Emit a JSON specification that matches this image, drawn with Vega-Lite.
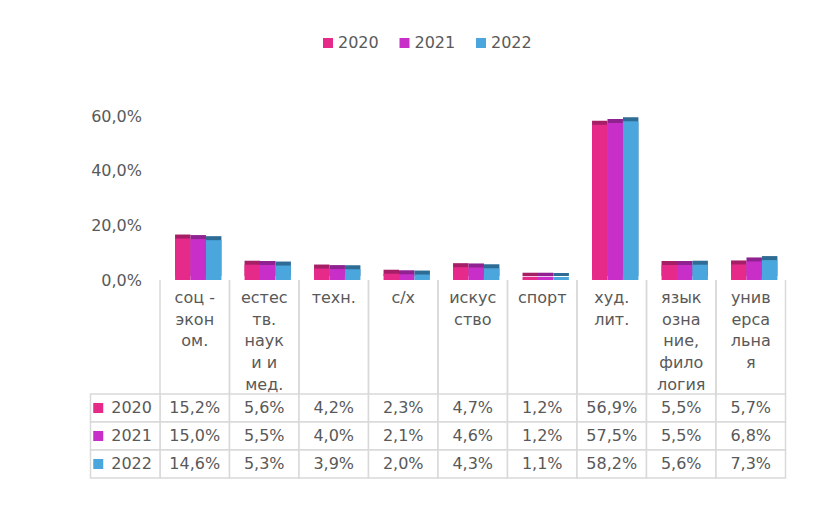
{
  "$schema": "https://vega.github.io/schema/vega-lite/v6.json",
  "autosize": {"type": "pad"},
  "padding": {"left": 89.5, "top": 35, "right": 0, "bottom": 0},
  "background": "white",
  "bounds": "flush",
  "spacing": 0,
  "resolve": {"scale": {"color": "independent"}, "legend": {"color": "independent"}},
  "config": {
    "view": {"stroke": null},
    "font": "DejaVu Sans",
    "locale": {"number": {"decimal": ",", "thousands": " ", "grouping": [3], "currency": ["", ""]}}
  },
  "datasets": {
    "d": [
      {"cat": "соц -\nэкон\nом.", "year": "2020", "v": 0.152},
      {"cat": "соц -\nэкон\nом.", "year": "2021", "v": 0.150},
      {"cat": "соц -\nэкон\nом.", "year": "2022", "v": 0.146},
      {"cat": "естес\nтв.\nнаук\nи и\nмед.", "year": "2020", "v": 0.056},
      {"cat": "естес\nтв.\nнаук\nи и\nмед.", "year": "2021", "v": 0.055},
      {"cat": "естес\nтв.\nнаук\nи и\nмед.", "year": "2022", "v": 0.053},
      {"cat": "техн.", "year": "2020", "v": 0.042},
      {"cat": "техн.", "year": "2021", "v": 0.040},
      {"cat": "техн.", "year": "2022", "v": 0.039},
      {"cat": "с/х", "year": "2020", "v": 0.023},
      {"cat": "с/х", "year": "2021", "v": 0.021},
      {"cat": "с/х", "year": "2022", "v": 0.020},
      {"cat": "искус\nство", "year": "2020", "v": 0.047},
      {"cat": "искус\nство", "year": "2021", "v": 0.046},
      {"cat": "искус\nство", "year": "2022", "v": 0.043},
      {"cat": "спорт", "year": "2020", "v": 0.012},
      {"cat": "спорт", "year": "2021", "v": 0.012},
      {"cat": "спорт", "year": "2022", "v": 0.011},
      {"cat": "худ.\nлит.", "year": "2020", "v": 0.569},
      {"cat": "худ.\nлит.", "year": "2021", "v": 0.575},
      {"cat": "худ.\nлит.", "year": "2022", "v": 0.582},
      {"cat": "язык\nозна\nние,\nфило\nлогия", "year": "2020", "v": 0.055},
      {"cat": "язык\nозна\nние,\nфило\nлогия", "year": "2021", "v": 0.055},
      {"cat": "язык\nозна\nние,\nфило\nлогия", "year": "2022", "v": 0.056},
      {"cat": "унив\nерса\nльна\nя", "year": "2020", "v": 0.057},
      {"cat": "унив\nерса\nльна\nя", "year": "2021", "v": 0.068},
      {"cat": "унив\nерса\nльна\nя", "year": "2022", "v": 0.073}
    ],
    "cats": [
      {"cat": "соц -\nэкон\nом."},
      {"cat": "естес\nтв.\nнаук\nи и\nмед."},
      {"cat": "техн."},
      {"cat": "с/х"},
      {"cat": "искус\nство"},
      {"cat": "спорт"},
      {"cat": "худ.\nлит."},
      {"cat": "язык\nозна\nние,\nфило\nлогия"},
      {"cat": "унив\nерса\nльна\nя"}
    ],
    "years": [
      {"year": "2020"},
      {"year": "2021"},
      {"year": "2022"}
    ]
  },
  "vconcat": [
    {
      "width": 695,
      "height": 191,
      "data": {"name": "d"},
      "encoding": {
        "x": {
          "field": "cat", "type": "nominal", "axis": null,
          "scale": {"domain": ["_", "соц -\nэкон\nом.", "естес\nтв.\nнаук\nи и\nмед.", "техн.", "с/х", "искус\nство", "спорт", "худ.\nлит.", "язык\nозна\nние,\nфило\nлогия", "унив\nерса\nльна\nя"], "paddingInner": 0.333, "paddingOuter": 0.1667, "align": 0.65}
        },
        "xOffset": {"field": "year", "type": "nominal", "scale": {"domain": ["2020", "2021", "2022"]}},
        "y": {
          "field": "v", "type": "quantitative",
          "scale": {"domain": [0, 0.7], "nice": false},
          "axis": {"values": [0, 0.2, 0.4, 0.6], "format": ".1%", "domain": false, "ticks": false, "tickSize": 0, "grid": false, "offset": -55, "labelPadding": 4, "labelFontSize": 16, "labelColor": "#595959", "labelFont": "DejaVu Sans", "title": null}
        }
      },
      "layer": [
        {
          "mark": {"type": "bar", "xOffset": 4, "yOffset": -4},
          "encoding": {
            "fill": {"field": "year", "type": "nominal", "scale": {"domain": ["2020", "2021", "2022"], "range": ["#A61F66", "#8F2290", "#2E6C95"]}, "legend": null}
          }
        },
        {
          "mark": {"type": "bar"},
          "encoding": {
            "color": {
              "field": "year", "type": "nominal",
              "scale": {"domain": ["2020", "2021", "2022"], "range": ["#E52A8A", "#C72FC8", "#4AA6DC"]},
              "legend": {"orient": "none", "direction": "horizontal", "legendX": 229.5, "legendY": -54, "title": null, "symbolType": "square", "symbolSize": 100, "symbolStrokeWidth": 0, "labelFontSize": 16, "labelColor": "#595959", "labelFont": "DejaVu Sans", "labelOffset": 2, "columnPadding": 17.5}
            }
          }
        }
      ]
    },
    {
      "width": 695,
      "height": 114,
      "data": {"name": "cats"},
      "layer": [
        {
          "mark": {"type": "rule", "color": "#D9D9D9", "strokeWidth": 1.5},
          "encoding": {
            "x": {"field": "cat", "type": "nominal", "bandPosition": 0, "axis": null,
              "scale": {"domain": ["_", "соц -\nэкон\nом.", "естес\nтв.\nнаук\nи и\nмед.", "техн.", "с/х", "искус\nство", "спорт", "худ.\nлит.", "язык\nозна\nние,\nфило\nлогия", "унив\nерса\nльна\nя"], "paddingInner": 0, "paddingOuter": 0}}
          }
        },
        {
          "mark": {"type": "rule", "color": "#D9D9D9", "strokeWidth": 1.5},
          "encoding": {
            "x": {"field": "cat", "type": "nominal", "bandPosition": 1, "axis": null}
          }
        },
        {
          "mark": {"type": "text", "baseline": "top", "lineBreak": "\n", "lineHeight": 21.7, "fontSize": 16, "color": "#595959", "font": "DejaVu Sans"},
          "encoding": {
            "x": {"field": "cat", "type": "nominal", "axis": null},
            "y": {"value": 10},
            "text": {"field": "cat", "type": "nominal"}
          }
        }
      ]
    },
    {
      "width": 695,
      "height": 84,
      "encoding": {
        "y": {"field": "year", "type": "nominal", "axis": null, "scale": {"domain": ["2020", "2021", "2022"], "paddingInner": 0, "paddingOuter": 0}}
      },
      "layer": [
        {
          "data": {"name": "d"},
          "mark": {"type": "rect", "fill": "white", "stroke": "#D9D9D9", "strokeWidth": 1.5},
          "encoding": {
            "x": {"field": "cat", "type": "nominal", "axis": null,
              "scale": {"domain": ["_", "соц -\nэкон\nом.", "естес\nтв.\nнаук\nи и\nмед.", "техн.", "с/х", "искус\nство", "спорт", "худ.\nлит.", "язык\nозна\nние,\nфило\nлогия", "унив\nерса\nльна\nя"], "paddingInner": 0, "paddingOuter": 0}}
          }
        },
        {
          "data": {"name": "years"},
          "mark": {"type": "rect", "fill": "white", "stroke": "#D9D9D9", "strokeWidth": 1.5},
          "encoding": {"x": {"datum": "_", "type": "nominal"}}
        },
        {
          "data": {"name": "d"},
          "mark": {"type": "text", "fontSize": 16, "color": "#595959", "font": "DejaVu Sans"},
          "encoding": {
            "x": {"field": "cat", "type": "nominal"},
            "text": {"field": "v", "type": "quantitative", "format": ".1%"}
          }
        },
        {
          "data": {"name": "years"},
          "mark": {"type": "point", "shape": "square", "filled": true, "size": 100, "opacity": 1, "xOffset": -27},
          "encoding": {
            "x": {"datum": "_", "type": "nominal"},
            "color": {"field": "year", "type": "nominal", "scale": {"domain": ["2020", "2021", "2022"], "range": ["#E52A8A", "#C72FC8", "#4AA6DC"]}, "legend": null}
          }
        },
        {
          "data": {"name": "years"},
          "mark": {"type": "text", "align": "left", "dx": -14, "fontSize": 16, "color": "#595959", "font": "DejaVu Sans"},
          "encoding": {
            "x": {"datum": "_", "type": "nominal"},
            "text": {"field": "year", "type": "nominal"}
          }
        }
      ]
    }
  ]
}
